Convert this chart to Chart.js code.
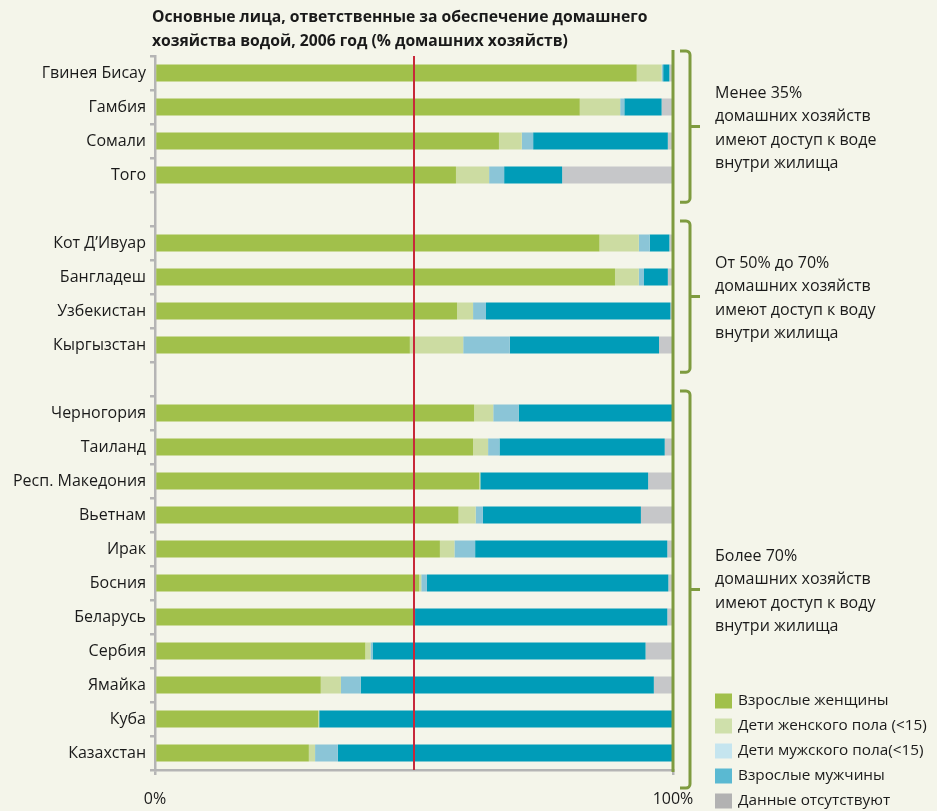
<!DOCTYPE html>
<html>
<head>
<meta charset="utf-8">
<script src="https://cdn.jsdelivr.net/npm/chart.js@4"></script>
<style>
  body { margin: 0; background: #f4f5ea; }
  #wrap { width: 937px; height: 811px; }
</style>
</head>
<body>
<div id="wrap"><canvas id="water-chart" width="937" height="811"></canvas></div>
<script>
// categories ('' = empty slot between the groups)
const countries = ["Гвинея Бисау", "Гамбия", "Сомали", "Того", "",
  "Кот Д’Ивуар", "Бангладеш", "Узбекистан", "Кыргызстан", "",
  "Черногория", "Таиланд", "Респ. Македония", "Вьетнам", "Ирак", "Босния",
  "Беларусь", "Сербия", "Ямайка", "Куба", "Казахстан"];

const adultWomen = [93.0, 82.0, 66.4, 58.1, null, 85.8, 88.8, 58.3, 49.2, null,
  61.6, 61.4, 62.6, 58.6, 55.0, 51.0, 50.2, 40.6, 32.0, 31.5, 29.7];
const girls      = [4.8, 7.8, 4.4, 6.4, null, 7.6, 4.6, 3.1, 10.3, null,
  3.7, 2.9, 0.2, 3.3, 2.8, 0.4, 0, 1.0, 3.9, 0.2, 1.2];
const boys       = [0.3, 0.8, 2.2, 2.9, null, 2.1, 1.0, 2.5, 9.0, null,
  4.9, 2.2, 0, 1.4, 4.0, 1.1, 0, 0.4, 3.8, 0, 4.4];
const adultMen   = [1.2, 7.2, 26.0, 11.2, null, 3.8, 4.6, 35.6, 28.8, null,
  29.8, 31.9, 32.4, 30.5, 37.1, 46.6, 48.7, 52.7, 56.6, 68.1, 64.7];
const noData     = [0.7, 2.2, 1.0, 21.4, null, 0.7, 1.0, 0.5, 2.7, null,
  0, 1.6, 4.8, 6.2, 1.1, 0.9, 1.1, 5.3, 3.7, 0.2, 0];

const seriesNames = ["Взрослые женщины", "Дети женского пола (<15)",
  "Дети мужского пола(<15)", "Взрослые мужчины", "Данные отсутствуют"];

const titleLines = ["Основные лица, ответственные за обеспечение домашнего",
  "хозяйства водой, 2006 год (% домашних хозяйств)"];

const xTicks = [0, 100];
const referenceLine = 50;

const groups = [
  { from: 0, to: 3, lines: ["Менее 35%", "домашних хозяйств", "имеют доступ к воде", "внутри жилища"] },
  { from: 5, to: 8, lines: ["От 50% до 70%", "домашних хозяйств", "имеют доступ к воду", "внутри жилища"] },
  { from: 10, to: 20, lines: ["Более 70%", "домашних хозяйств", "имеют доступ к воду", "внутри жилища"] }
];

const barColors = ["#a1c04b", "#ccdca2", "#8bc5d7", "#009cb8", "#c6c7c9"];
const legendColors = ["#a1c04b", "#cfe0ab", "#c5e5ef", "#5ab9d2", "#b2b2b2"];
const green = "#7e9b3f";
const FONT = "'Open Sans', 'Noto Sans', sans-serif";

const overlay = {
  id: 'overlay',
  afterDatasetsDraw(chart) {
    const ctx = chart.ctx, x = chart.scales.x, a = chart.chartArea;
    ctx.save();
    ctx.strokeStyle = "#c8283a";
    ctx.lineWidth = 2;
    const rx = x.getPixelForValue(referenceLine);
    ctx.beginPath(); ctx.moveTo(rx, a.top); ctx.lineTo(rx, a.bottom); ctx.stroke();
    ctx.strokeStyle = green;
    ctx.lineWidth = 3;
    const gx = x.getPixelForValue(100);
    ctx.beginPath(); ctx.moveTo(gx, a.top - 6); ctx.lineTo(gx, a.bottom + 2); ctx.stroke();
    ctx.restore();
  },
  afterDraw(chart) {
    const ctx = chart.ctx, x = chart.scales.x, y = chart.scales.y, a = chart.chartArea;
    const slot = Math.abs(y.getPixelForValue(1) - y.getPixelForValue(0));
    ctx.save();
    // title
    ctx.fillStyle = "#1a1a1a";
    ctx.font = "bold 15.7px " + FONT;
    ctx.textBaseline = "middle";
    ctx.textAlign = "left";
    titleLines.forEach((t, i) => ctx.fillText(t, a.left - 3, 18 + i * 24));

    // brackets + notes
    const bx = x.getPixelForValue(100) + 17;
    groups.forEach(g => {
      const top = y.getPixelForValue(g.from) - 0.65 * slot;
      const bot = g.to === countries.length - 1 ? a.bottom + 18 : y.getPixelForValue(g.to) + 0.8 * slot;
      const mid = (top + bot) / 2;
      ctx.strokeStyle = green;
      ctx.lineWidth = 3;
      ctx.beginPath();
      ctx.moveTo(bx - 10, top);
      ctx.arcTo(bx, top, bx, top + 8, 4);
      ctx.lineTo(bx, bot - 4);
      ctx.arcTo(bx, bot, bx - 10, bot, 4);
      ctx.lineTo(bx - 10, bot);
      ctx.moveTo(bx, mid);
      ctx.lineTo(bx + 10, mid);
      ctx.stroke();
      ctx.fillStyle = "#1a1a1a";
      ctx.font = "16px " + FONT;
      const lh = 23.5;
      g.lines.forEach((t, i) => {
        ctx.fillText(t, bx + 25, mid + 2 + (i - (g.lines.length - 1) / 2) * lh);
      });
    });

    // legend
    const lx = bx + 25;
    seriesNames.forEach((n, i) => {
      const cy = 701 + i * 25;
      ctx.fillStyle = legendColors[i];
      ctx.fillRect(lx, cy - 7.5, 17, 15);
      ctx.fillStyle = "#1a1a1a";
      ctx.font = "15.3px " + FONT;
      ctx.fillText(n, lx + 23, cy);
    });
    ctx.restore();
  }
};

const series = [adultWomen, girls, boys, adultMen, noData];

new Chart(document.getElementById("water-chart"), {
  type: 'bar',
  data: {
    labels: countries,
    datasets: series.map((d, i) => ({
      label: seriesNames[i],
      data: d,
      backgroundColor: barColors[i],
      borderWidth: 0,
      barPercentage: 0.5,
      categoryPercentage: 1.0
    }))
  },
  plugins: [overlay],
  options: {
    indexAxis: 'y',
    responsive: false,
    animation: false,
    layout: { padding: { top: 56, right: 264, left: 0, bottom: 0 } },
    plugins: {
      legend: { display: false },
      title: { display: false },
      tooltip: { enabled: false }
    },
    scales: {
      x: {
        stacked: true,
        min: 0,
        max: 100,
        afterBuildTicks: s => { s.ticks = xTicks.map(v => ({ value: v })); },
        afterFit: s => { s.height = 41; },
        grid: { drawOnChartArea: false, drawTicks: true, tickLength: 5, color: "#b5b5b5", lineWidth: 2.5 },
        border: { color: "#b5b5b5", width: 2.5 },
        ticks: { padding: 15, color: "#1a1a1a", font: { family: FONT, size: 16 }, callback: v => v + "%" }
      },
      y: {
        stacked: true,
        afterFit: s => { s.width = 155; },
        grid: { drawOnChartArea: false, drawTicks: true, tickLength: 5, color: "#b5b5b5", lineWidth: 2.5, offset: true },
        border: { color: "#b5b5b5", width: 2.5 },
        ticks: { padding: 4, color: "#1a1a1a", font: { family: FONT, size: 16 }, autoSkip: false }
      }
    }
  }
});
</script>
</body>
</html>
